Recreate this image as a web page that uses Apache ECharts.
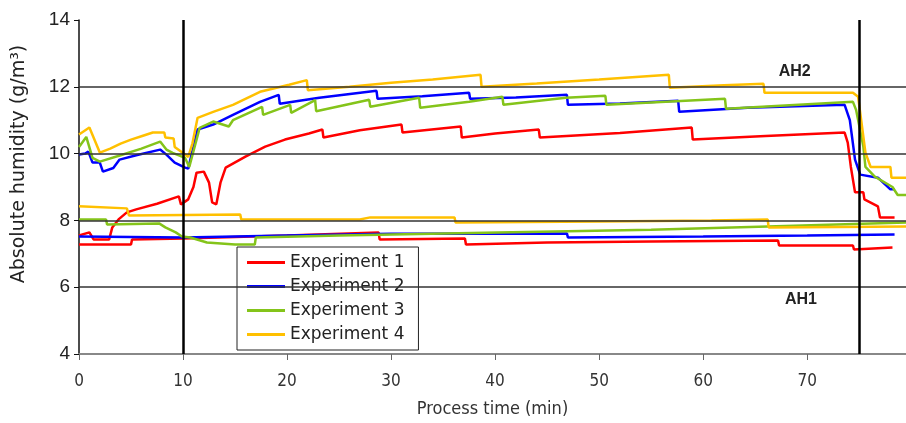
<!DOCTYPE html>
<html>
<head>
<meta charset="utf-8">
<script src="https://cdn.jsdelivr.net/npm/echarts@6/dist/echarts.min.js"></script>
<style>
  html, body { margin: 0; padding: 0; background: #fff; }
  #chart { width: 906px; height: 423px; }
</style>
</head>
<body>
<div id="chart"></div>
<script>
// legend names
var names = ['Experiment 1', 'Experiment 2', 'Experiment 3', 'Experiment 4'];
var colors = ['#ff0000', '#0000ff', '#84c41a', '#ffc000'];

// AH2 curves [time (min), absolute humidity (g/m3)]
var exp1AH2 = [[0,7.55],[1.0,7.64],[1.4,7.43],[2.9,7.43],[3.2,7.79],[3.8,8.03],[4.6,8.24],[5.5,8.33],[7.5,8.5],[9.6,8.72],[9.8,8.48],[10.5,8.63],[11.0,9.0],[11.3,9.43],[12.0,9.46],[12.5,9.13],[12.8,8.54],[13.2,8.48],[13.6,9.13],[14.1,9.58],[16.0,9.91],[17.9,10.21],[19.8,10.42],[22.1,10.6],[23.4,10.72],[23.5,10.48],[27,10.7],[31.0,10.87],[31.1,10.63],[36.7,10.81],[36.8,10.48],[40,10.6],[44.2,10.72],[44.3,10.48],[52,10.62],[58.9,10.78],[59.0,10.42],[66,10.53],[73.6,10.63],[73.9,10.33],[74.2,9.6],[74.6,8.84],[75.4,8.84],[75.5,8.63],[76.8,8.42],[77.0,8.09],[78.4,8.09]];
var exp2AH2 = [[0,9.97],[0.6,10.0],[0.9,10.06],[1.3,9.73],[2.0,9.73],[2.3,9.46],[3.3,9.57],[3.9,9.82],[5.5,9.95],[7.8,10.12],[8.4,9.97],[9.2,9.73],[10.2,9.58],[10.5,9.55],[11.4,10.72],[12.9,10.87],[14.8,11.16],[17.4,11.55],[19.2,11.76],[19.3,11.49],[23.1,11.67],[28.6,11.88],[28.7,11.64],[33,11.72],[37.5,11.82],[37.6,11.64],[42,11.68],[46.9,11.76],[47.0,11.46],[52,11.5],[57.6,11.58],[57.7,11.25],[64.3,11.37],[73.6,11.46],[74.1,11.0],[74.6,9.82],[75.1,9.37],[76.8,9.28],[77,9.22],[78,8.93],[78.4,8.93]];
var exp3AH2 = [[0,10.2],[0.7,10.5],[1.3,9.87],[2.0,9.76],[4,9.95],[6,10.15],[7.8,10.36],[8.4,10.12],[9.0,10.02],[10.2,9.87],[10.6,9.6],[11.6,10.77],[12.9,10.96],[14.4,10.81],[14.8,11.0],[17.6,11.4],[17.7,11.16],[20.3,11.46],[20.4,11.22],[22.7,11.6],[22.8,11.27],[27.9,11.61],[28.0,11.4],[32.7,11.67],[32.8,11.37],[37.5,11.55],[40.7,11.7],[40.8,11.46],[46.8,11.67],[50.6,11.73],[50.7,11.46],[62.1,11.64],[62.2,11.34],[74.4,11.55],[74.7,11.31],[75.4,10.21],[75.6,9.6],[76.5,9.31],[78.2,9.0],[78.7,8.76],[79.5,8.76]];
var exp4AH2 = [[0,10.57],[1.0,10.78],[2.0,10.03],[3,10.15],[4,10.3],[5,10.42],[6,10.52],[7.1,10.63],[8.2,10.63],[8.3,10.48],[9.1,10.45],[9.2,10.2],[10.2,9.97],[10.5,9.9],[10.9,10.3],[11.4,11.07],[12.9,11.25],[14.8,11.46],[17.4,11.85],[20.2,12.06],[21.9,12.2],[22.0,11.9],[26,12.0],[30,12.12],[34,12.22],[38.6,12.36],[38.7,12.0],[44,12.1],[50,12.22],[56.7,12.36],[56.8,11.97],[62,12.05],[65.8,12.09],[65.9,11.82],[74.4,11.82],[74.9,11.7],[75.6,10.03],[76.1,9.6],[78,9.6],[78.1,9.28],[79.5,9.28]];

// AH1 curves
var exp1AH1 = [[0,7.28],[5.0,7.28],[5.1,7.43],[10,7.46],[20,7.55],[28.8,7.64],[28.9,7.43],[37.1,7.46],[37.2,7.28],[45,7.34],[55,7.37],[67.2,7.4],[67.3,7.25],[74.4,7.25],[74.5,7.13],[78.2,7.19]];
var exp2AH1 = [[0,7.52],[10,7.49],[20,7.55],[30,7.6],[46.9,7.61],[47.0,7.49],[60,7.52],[70,7.55],[78.4,7.58]];
var exp3AH1 = [[0,8.03],[2.6,8.03],[2.7,7.88],[7.7,7.91],[8.3,7.79],[9.3,7.64],[9.9,7.52],[10.7,7.49],[12.3,7.34],[15.0,7.28],[16.9,7.28],[17.0,7.49],[25,7.55],[40.3,7.64],[55,7.72],[66.2,7.82],[79.5,7.94]];
var exp4AH1 = [[0,8.42],[4.6,8.36],[4.8,8.15],[15.5,8.18],[15.6,8.03],[27,8.03],[28,8.09],[36.1,8.09],[36.2,7.94],[50,7.97],[60.8,8.0],[66.2,8.03],[66.3,7.79],[79.5,7.82]];

var gridValues = [6, 8, 10, 12];
var phaseTimes = [10, 75];
var labelAH2 = [68.8, 12.45];
var labelAH1 = [69.4, 5.64];

var font = "'Liberation Sans', Arial, sans-serif";
var wideFont = "'DejaVu Sans', Verdana, sans-serif";
var narrowFont = "'DejaVu Sans Condensed', 'Liberation Sans Narrow', 'Liberation Sans', Arial, sans-serif";

function curve(idx, data) {
  return {
    name: names[idx],
    type: 'line',
    data: data,
    symbol: 'none',
    z: 3,
    lineStyle: { color: colors[idx], width: 2.5 },
    itemStyle: { color: colors[idx] }
  };
}

var myChart = echarts.init(document.getElementById('chart'));

var option = {
  animation: false,
  grid: { left: 79, top: 20, right: 0, bottom: 68 },
  legend: {
    data: names,
    orient: 'vertical',
    left: 237,
    top: 247,
    padding: [7, 14, 7, 10],
    itemGap: 7,
    itemWidth: 38,
    itemHeight: 3,
    icon: 'rect',
    borderColor: '#222',
    borderWidth: 1,
    backgroundColor: '#fff',
    textStyle: { fontSize: 17, color: '#222', fontFamily: wideFont }
  },
  xAxis: {
    type: 'value',
    min: 0,
    max: 79.5,
    interval: 10,
    name: 'Process time (min)',
    nameLocation: 'middle',
    nameGap: 46,
    nameTextStyle: { fontSize: 18, color: '#333', fontFamily: narrowFont },
    axisLine: { lineStyle: { color: '#888', width: 2 } },
    axisTick: { length: 6, lineStyle: { color: '#666' } },
    axisLabel: {
      fontSize: 17, color: '#333', margin: 19,
      fontFamily: narrowFont,
      showMaxLabel: false
    },
    splitLine: { show: false }
  },
  yAxis: {
    type: 'value',
    min: 4,
    max: 14,
    interval: 2,
    name: 'Absolute humidity (g/m³)',
    nameLocation: 'middle',
    nameGap: 50,
    nameTextStyle: { fontSize: 19, color: '#222', fontFamily: wideFont, padding: [0, 0, 0, 46] },
    axisLine: { show: true, lineStyle: { color: '#111', width: 1.5 } },
    axisTick: { show: true, length: 5, lineStyle: { color: '#111' } },
    axisLabel: { fontSize: 19, color: '#222', margin: 9, fontFamily: font },
    splitLine: { show: false }
  },
  series: [
    {
      // reference lines and annotations
      name: 'ref',
      type: 'line',
      data: [],
      z: 1,
      markLine: {
        silent: true,
        symbol: 'none',
        label: { show: false },
        data: gridValues.map(function (v) {
          return { yAxis: v, lineStyle: { color: '#333', width: 1.5, type: 'solid' } };
        }).concat(phaseTimes.map(function (t) {
          return { xAxis: t, lineStyle: { color: '#000', width: 2.5, type: 'solid' } };
        }))
      },
      markPoint: {
        silent: true,
        symbol: 'circle',
        symbolSize: 0,
        data: [
          { coord: labelAH2, value: 'AH2' },
          { coord: labelAH1, value: 'AH1' }
        ],
        label: {
          show: true,
          position: 'inside',
          formatter: '{c}',
          fontSize: 16,
          fontWeight: 'bold',
          color: '#222',
          fontFamily: font
        }
      }
    },
    curve(0, exp1AH2), curve(1, exp2AH2), curve(2, exp3AH2), curve(3, exp4AH2),
    curve(0, exp1AH1), curve(1, exp2AH1), curve(2, exp3AH1), curve(3, exp4AH1)
  ]
};

myChart.setOption(option);
window.addEventListener('resize', function () { myChart.resize(); });
</script>
</body>
</html>
